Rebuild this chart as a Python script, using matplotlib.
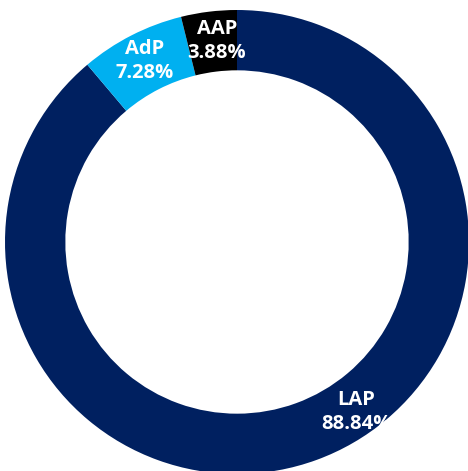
import matplotlib
matplotlib.use("Agg")
import matplotlib.pyplot as plt

labels = ["LAP", "AdP", "AAP"]
values = [88.84, 7.28, 3.88]
colors = ["#002060", "#00B0F0", "#000000"]

W, H = 468, 471
cx, cy, R = 237, 242, 232

fig = plt.figure(figsize=(W / 100, H / 100), dpi=100)
ax = fig.add_axes([0, 0, 1, 1])
ax.pie(values, colors=colors, startangle=90, counterclock=False, radius=1.0,
       wedgeprops=dict(width=0.26, edgecolor="none", linewidth=0))
ax.set_xlim(-cx / R, (W - cx) / R)
ax.set_ylim(-(H - cy) / R, cy / R)
ax.set_aspect("equal")
ax.axis("off")

# label centres in pixel space, converted to data units
label_px = [(356, 412), (145, 61), (217, 41)]
for lab, v, (px, py) in zip(labels, values, label_px):
    ax.text((px - cx) / R, (cy - py) / R, f"{lab}\n{v:.2f}%", ha="center", va="center",
            color="white", fontsize=14.5, fontweight="bold", family="Open Sans",
            linespacing=1.3)

fig.savefig("out.png", dpi=100)
